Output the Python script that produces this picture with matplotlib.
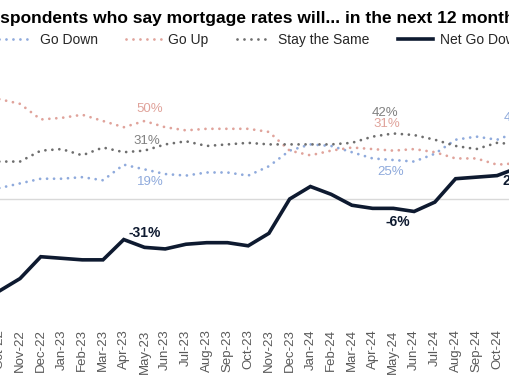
import matplotlib
matplotlib.use('Agg')
import matplotlib.pyplot as plt

plt.rcParams['font.family'] = ['Liberation Sans', 'DejaVu Sans']

months = ['Oct-22', 'Nov-22', 'Dec-22', 'Jan-23', 'Feb-23', 'Mar-23', 'Apr-23',
          'May-23', 'Jun-23', 'Jul-23', 'Aug-23', 'Sep-23', 'Oct-23', 'Nov-23',
          'Dec-23', 'Jan-24', 'Feb-24', 'Mar-24', 'Apr-24', 'May-24', 'Jun-24',
          'Jul-24', 'Aug-24', 'Sep-24', 'Oct-24', 'Nov-24']
go_down = [7, 10, 13, 13, 14, 12, 22, 19, 16, 15, 17, 17, 15, 21, 31, 35, 34,
           30, 26, 25, 24, 29, 38, 40, 38, 43]
go_up = [64, 61, 51, 52, 54, 50, 46, 50, 46, 44, 45, 45, 45, 43, 31, 28, 31,
         33, 32, 31, 32, 30, 26, 26, 22, 23]
stay_same = [24, 24, 31, 32, 28, 33, 30, 31, 35, 37, 34, 35, 36, 35, 35, 35, 35,
             36, 40, 42, 41, 38, 34, 32, 36, 35]
net_go_down = [-59, -51, -37, -38, -39, -39, -26, -31, -32, -29, -28, -28, -30,
               -22, 0, 8, 3, -4, -6, -6, -8, -2, 13, 14, 15, 20]

c_down = '#8faadc'
c_up = '#e0a39b'
c_same = '#6e6e6e'
c_net = '#0e1a30'

W, H = 510, 382
fig = plt.figure(figsize=(W / 100, H / 100), dpi=100)
# axes run past the figure edges, the reference is a crop of a wider chart
x0, x1 = -0.7, 517.8
y_top, y_bot = 74.2, 323.8
ax = fig.add_axes([x0 / W, 1 - y_bot / H, (x1 - x0) / W, (y_bot - y_top) / H])

x = list(range(len(months)))
dots = (0, (0.01, 2.5))
ax.axhline(0, color='#d9d9d9', lw=1, zorder=1)
l_down, = ax.plot(x, go_down, color=c_down, lw=2.0, ls=dots, dash_capstyle='round', label='Go Down')
l_up, = ax.plot(x, go_up, color=c_up, lw=2.0, ls=dots, dash_capstyle='round', label='Go Up')
l_same, = ax.plot(x, stay_same, color=c_same, lw=2.0, ls=dots, dash_capstyle='round', label='Stay the Same')
l_net, = ax.plot(x, net_go_down, color=c_net, lw=2.6, solid_joinstyle='miter', label='Net Go Down', zorder=5)

ax.set_xlim(0, len(months) - 1)
ax.set_ylim(-80, 80)
ax.set_xticks(x)
ax.set_xticklabels(months, rotation=90, fontsize=9.5, color='#595959')
ax.tick_params(axis='x', length=0, pad=4)
ax.set_yticks([])
for s in ax.spines.values():
    s.set_visible(False)
ax.patch.set_alpha(0)


def label(series, i, dx, dy, color, bold=False):
    v = series[i]
    ax.annotate(f'{v}%', (i, v), xytext=(dx, dy), textcoords='offset pixels',
                ha='center', va='center', color=color,
                fontsize=10 if bold else 9.5,
                fontweight='bold' if bold else 'normal', zorder=6)


label(go_up, 7, 5.5, 12, c_up)
label(stay_same, 7, 2.5, 10, '#808080')
label(go_down, 7, 6, -13, c_down)
label(net_go_down, 7, 0.5, 14, c_net, bold=True)
label(stay_same, 19, -8, 20, '#808080')
label(go_up, 19, -7, 27, c_up)
label(go_down, 19, -3, -12, c_down)
label(net_go_down, 19, 4, -14, c_net, bold=True)
label(go_down, 25, -1, 14, c_down)
label(net_go_down, 25, -1, -13, c_net, bold=True)

fig.legend([l_down, l_up, l_same, l_net],
           ['Go Down', 'Go Up', 'Stay the Same', 'Net Go Down'],
           loc='center left', bbox_to_anchor=(-2 / W, 1 - 40 / H), ncol=4,
           frameon=False, fontsize=10, handlelength=2.5, handletextpad=0.5,
           columnspacing=2.05, borderpad=0, borderaxespad=0,
           labelcolor='#262626')

title = 'Respondents who say mortgage rates will... in the next 12 months'
tprops = dict(fontsize=12.5, fontweight='bold', color='black')
r = fig.canvas.get_renderer()
probe = fig.text(0, 0, 'Re', **tprops)
shift = probe.get_window_extent(r).width
probe.remove()
fig.text(-shift / W, 1 - 23 / H, title, ha='left', va='baseline', **tprops)

fig.savefig('out.png', dpi=100)
